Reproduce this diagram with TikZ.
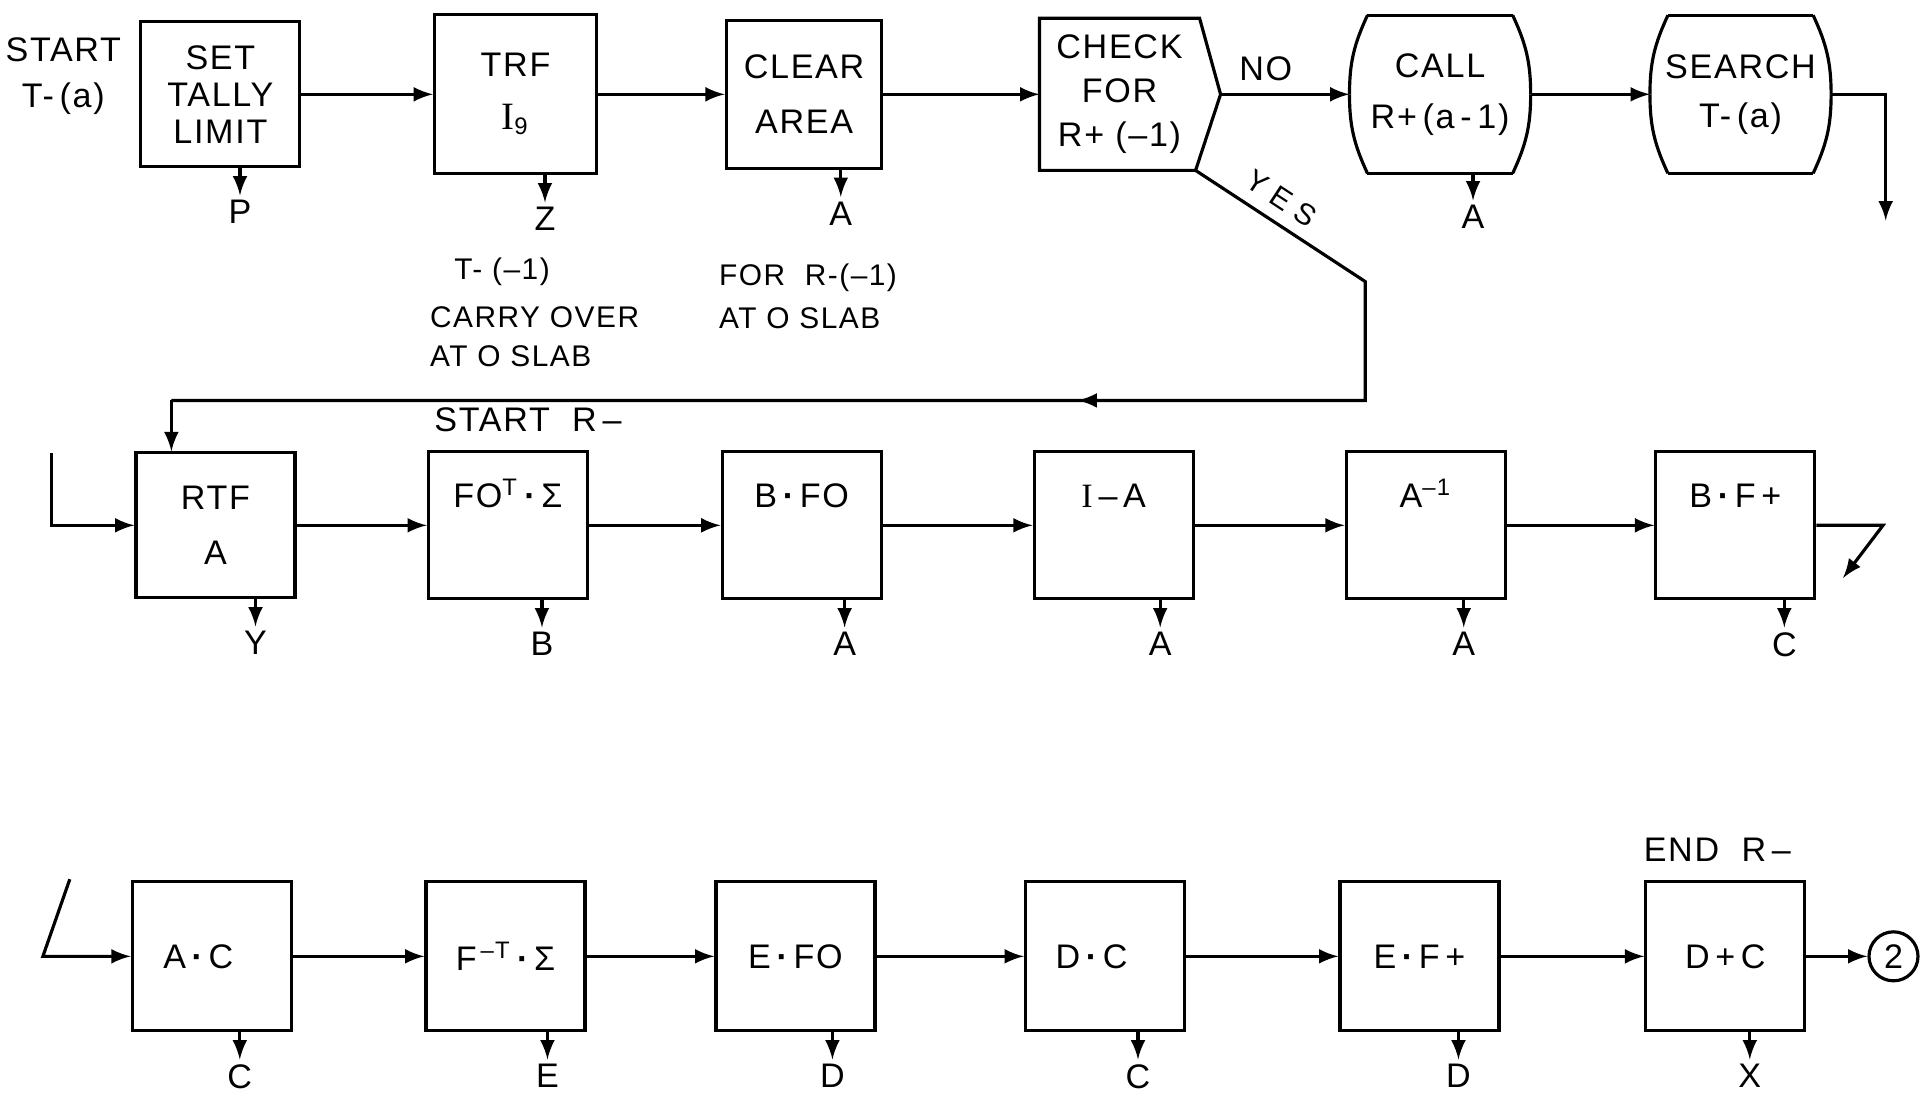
\documentclass[tikz,border=0pt]{standalone}
\usepackage{fontspec}
\setmainfont{Liberation Sans}[LetterSpace=5]
\newfontfamily\romanI{Liberation Serif}
\newfontfamily\wideletters{Liberation Sans}[LetterSpace=30]
\usetikzlibrary{positioning,calc,arrows}
\tikzset{barrel/.style={minimum width=1.78cm, minimum height=1.55cm, align=center,
        append after command={
        ([xshift=0.18cm]\tikzlastnode.north west) edge ([xshift=-0.18cm]\tikzlastnode.north east)
        ([xshift=0.18cm]\tikzlastnode.south west) edge ([xshift=-0.18cm]\tikzlastnode.south east)
        ([xshift=-0.18cm]\tikzlastnode.north east) edge [out=-65, in=90] (\tikzlastnode.east)
        (\tikzlastnode.east) edge [out=-90, in=65] ([xshift=-0.18cm]\tikzlastnode.south east)
        ([xshift=0.18cm]\tikzlastnode.north west) edge [out=-115, in=90] (\tikzlastnode.west)
        (\tikzlastnode.west) edge [out=-90, in=115] ([xshift=0.18cm]\tikzlastnode.south west)
        }
    }
}
\tikzstyle{block} = [draw, rectangle, minimum width=1.59cm, minimum height=1.47cm, align=center]
\tikzstyle{hightext} = [text height=0.25cm, text depth=0.6cm]
\tikzstyle{outlbl} = [inner sep=1pt]
\tikzstyle{note} = [font=\fontsize{8.5}{11}\selectfont, inner sep=0pt, align=left]
\newcommand{\dotop}{\,{\bfseries ·}\,}

\begin{document}
\begin{tikzpicture}[>=latex, line width=0.9pt, font=\fontsize{9.7}{10.5}\selectfont]
    \useasboundingbox (0,0) rectangle (19.2,-11.07);

    % first row
    \node [block, minimum height=1.45cm] (set) at (2.204,-0.943) {SET\\TALLY\\LIMIT};
    \node [left=0.05cm of set, yshift=0.18cm, align=center] (start) {START\\[2.5pt]T-\,(a)};
    \node [block, right=1.315cm of set, minimum width=1.62cm, minimum height=1.59cm] (trf) {TRF\\[4.5pt]{\romanI\fontsize{11}{11}\selectfont I}\textsubscript{9}};
    \node [block, right=1.266cm of trf, minimum width=1.555cm, minimum height=1.48cm] (clear) {CLEAR\\[5pt]AREA};
    \node [right=1.56cm of clear, minimum width=1.57cm, minimum height=1.49cm, align=center] (check) {CHECK\\[2pt]FOR\\[2pt]R+ (–1)};
    \coordinate [right=0.21cm of check] (chktip);
    \coordinate (chkfoot) at ([xshift=-0.04cm]check.south east);
    \draw (check.north west) -- (check.north east) -- (chktip) -- (chkfoot) -- (check.south west) -- cycle;
    \node [barrel, right=1.499cm of check] (call) {CALL\\[4pt]R+\,(a\,-\,1)};
    \node [barrel, right=1.193cm of call] (search) {SEARCH\\[3.5pt]T-\,(a)};

    \node [outlbl, below=0.27cm of set, xshift=0.196cm] (setout) {P};
    \node [outlbl, below=0.27cm of trf, xshift=0.294cm] (trfout) {Z};
    \node [outlbl, below=0.27cm of clear, xshift=0.367cm] (clearout) {A};
    \node [outlbl, below=0.27cm of call, xshift=0.33cm] (callout) {A};

    \node [note] (tminus) at (5.02,-2.718) {T- (–1)};
    \node [note, anchor=west] (carry) at (4.286,-3.367) {CARRY OVER\\AT O SLAB};
    \node [note, anchor=west] (forr) at (7.176,-2.963) {FOR\ \ R-(–1)\\[1pt]AT O SLAB};

    \draw [->] (set) -- (trf);
    \draw [->] (trf) -- (clear);
    \draw [->] (clear) -- (check);
    \draw [->] (chktip) -- node [above, pos=0.35] (no) {NO} (call);
    \draw [->] (call) -- (search);
    \draw [->] (set.south -| setout) -- (setout);
    \draw [->] (trf.south -| trfout) -- (trfout);
    \draw [->] (clear.south -| clearout) -- (clearout);
    \draw [->] (call.south -| callout) -- (callout);

    \coordinate (srchout) at (18.857,-2.204);
    \draw [->] (search) -| (srchout);

    % yes branch back to second row
    \coordinate (yesbend) at (13.653,-2.816);
    \coordinate (yescorner) at (13.653,-4.004);
    \coordinate (yesmid) at (10.776,-4.004);
    \coordinate (rtfin) at (1.714,-4.004);

    % second row
    \node [block, minimum height=1.45cm] (rtf) at (2.155,-5.253) {RTF\\[5pt]A};
    \node [block, hightext, right=1.303cm of rtf] (fot) {FO\textsuperscript{T}\dotop Σ};
    \node [above=0.05cm of fot, xshift=0.2cm] (startr) {START\ \ R\,–};
    \node [block, hightext, right=1.315cm of fot] (bfo) {B\dotop FO};
    \node [block, hightext, right=1.499cm of bfo] (ia) {{\romanI I}\,–\,A};
    \node [block, hightext, right=1.499cm of ia] (ainv) {A\textsuperscript{–1}};
    \node [block, hightext, right=1.474cm of ainv] (bfp) {B\dotop F\,+};

    \node [outlbl, below=0.27cm of rtf, xshift=0.40cm] (rtfout) {Y};
    \node [outlbl, below=0.27cm of fot, xshift=0.34cm] (fotout) {B};
    \node [outlbl, below=0.27cm of bfo, xshift=0.43cm] (bfoout) {A};
    \node [outlbl, below=0.27cm of ia, xshift=0.465cm] (iaout) {A};
    \node [outlbl, below=0.27cm of ainv, xshift=0.38cm] (ainvout) {A};
    \node [outlbl, below=0.27cm of bfp, xshift=0.49cm] (bfpout) {C};

    \draw (chkfoot) -- node [sloped, above, pos=0.43, font=\wideletters\fontsize{8.5}{9}\selectfont] (yes) {YES} (yesbend) -- (yescorner) -- (rtfin);
    \draw [->] (yescorner) -- (yesmid);
    \draw [->] (rtfin) -- (rtfin |- rtf.north);

    \coordinate (rtfentry) at (0.514,-4.531);
    \draw [->] (rtfentry) |- (rtf);
    \draw [->] (rtf) -- (fot);
    \draw [->] (fot) -- (bfo);
    \draw [->] (bfo) -- (ia);
    \draw [->] (ia) -- (ainv);
    \draw [->] (ainv) -- (bfp);
    \draw [->] (rtf.south -| rtfout) -- (rtfout);
    \draw [->] (fot.south -| fotout) -- (fotout);
    \draw [->] (bfo.south -| bfoout) -- (bfoout);
    \draw [->] (ia.south -| iaout) -- (iaout);
    \draw [->] (ainv.south -| ainvout) -- (ainvout);
    \draw [->] (bfp.south -| bfpout) -- (bfpout);

    \coordinate (bfpturn) at (18.83,-5.253);
    \coordinate (bfpexit) at (18.43,-5.78);
    \draw [->] (bfp) -- (bfpturn) -- (bfpexit);

    % third row
    \node [block, minimum height=1.49cm] (ac) at (2.118,-9.563) {A\dotop C\hspace{0.27cm}};
    \node [block, minimum height=1.49cm, right=1.315cm of ac] (ftsig) {F\textsuperscript{\,–T}\dotop Σ};
    \node [block, minimum height=1.49cm, right=1.278cm of ftsig] (efo) {E\dotop FO};
    \node [block, minimum height=1.49cm, right=1.474cm of efo] (dc) {D\dotop C\hspace{0.27cm}};
    \node [block, minimum height=1.49cm, right=1.523cm of dc] (efp) {E\dotop F\,+};
    \node [block, minimum height=1.49cm, right=1.437cm of efp] (dpc) {D\,+\,C};
    \node [above=0.05cm of dpc, xshift=-0.08cm] (endr) {END\ \ R\,–};
    \node [draw, circle, minimum size=0.49cm, inner sep=0pt, right=0.61cm of dpc] (two) {2};

    \node [outlbl, below=0.27cm of ac, xshift=0.28cm] (acout) {C};
    \node [outlbl, below=0.27cm of ftsig, xshift=0.42cm] (ftsigout) {E};
    \node [outlbl, below=0.27cm of efo, xshift=0.37cm] (efoout) {D};
    \node [outlbl, below=0.27cm of dc, xshift=0.33cm] (dcout) {C};
    \node [outlbl, below=0.27cm of efp, xshift=0.39cm] (efpout) {D};
    \node [outlbl, below=0.27cm of dpc, xshift=0.245cm] (dpcout) {X};

    \coordinate (acin) at (0.698,-8.792);
    \coordinate (acturn) at (0.429,-9.563);
    \draw [->] (acin) -- (acturn) -- (ac);
    \draw [->] (ac) -- (ftsig);
    \draw [->] (ftsig) -- (efo);
    \draw [->] (efo) -- (dc);
    \draw [->] (dc) -- (efp);
    \draw [->] (efp) -- (dpc);
    \draw [->] (dpc) -- (two);
    \draw [->] (ac.south -| acout) -- (acout);
    \draw [->] (ftsig.south -| ftsigout) -- (ftsigout);
    \draw [->] (efo.south -| efoout) -- (efoout);
    \draw [->] (dc.south -| dcout) -- (dcout);
    \draw [->] (efp.south -| efpout) -- (efpout);
    \draw [->] (dpc.south -| dpcout) -- (dpcout);
\end{tikzpicture}
\end{document}
